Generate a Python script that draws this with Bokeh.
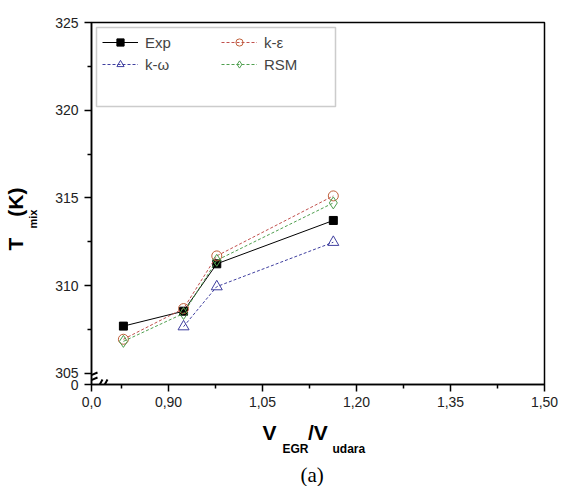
from bokeh.plotting import figure
from bokeh.models import (Range1d, FixedTicker, Legend, LegendItem,
                          BoxAnnotation, Arrow, Title)
from bokeh.embed import file_html
from bokeh.resources import INLINE

# ---------------- data ----------------
x_exp = [0.828, 0.924, 0.977, 1.163]
y_exp = [307.70, 308.55, 311.25, 313.72]
x_ke = [0.828, 0.924, 0.977, 1.163]
y_ke = [306.95, 308.70, 311.70, 315.12]
x_kw = [0.924, 0.977, 1.163]
y_kw = [307.67, 309.95, 312.48]
x_rsm = [0.828, 0.924, 0.977, 1.163]
y_rsm = [306.83, 308.42, 311.45, 314.72]

x_ticks = [0.7771, 0.90, 1.05, 1.20, 1.35, 1.50]
x_tick_labels = ["0,0", "0,90", "1,05", "1,20", "1,35", "1,50"]
x_minor = [0.825, 0.975, 1.125, 1.275, 1.425]
y_ticks = [304.373, 305, 310, 315, 320, 325]
y_tick_labels = ["0", "305", "310", "315", "320", "325"]
y_minor = [307.5, 312.5, 317.5, 322.5]

X0, X1 = 0.7771, 1.5
Y0, Y1 = 304.373, 325.0

W, H = 562, 486
FL, FR, FT, FB = 91, 544, 22, 384   # frame edges in page pixels


def px2x(px):
    return X0 + (px - FL) * (X1 - X0) / (FR - FL)


def px2y(py):
    return Y1 - (py - FT) * (Y1 - Y0) / (FB - FT)


FONT = "Liberation Sans"

p = figure(width=W, height=H, x_range=Range1d(X0, X1), y_range=Range1d(Y0, Y1),
           output_backend="svg", toolbar_location=None,
           min_border_left=FL, min_border_right=W - FR, min_border_top=FT,
           min_border_bottom=H - FB)
p.grid.visible = False
p.outline_line_color = "black"
p.outline_line_width = 1.5
p.background_fill_color = "white"
p.border_fill_color = "white"

p.xaxis.ticker = FixedTicker(ticks=x_ticks, minor_ticks=x_minor)
p.xaxis.major_label_overrides = dict(zip(x_ticks, x_tick_labels))
p.yaxis.ticker = FixedTicker(ticks=y_ticks, minor_ticks=y_minor)
p.yaxis.major_label_overrides = dict(zip(y_ticks, y_tick_labels))
for ax in (p.xaxis, p.yaxis):
    ax.axis_line_width = 1.5
    ax.major_tick_in = 0
    ax.major_tick_out = 7
    ax.minor_tick_in = 0
    ax.minor_tick_out = 4
    ax.major_tick_line_width = 1.5
    ax.minor_tick_line_width = 1.5
    ax.major_label_text_font = FONT
    ax.major_label_text_font_size = "14px"
    ax.major_label_text_color = "#222222"
    ax.axis_label = " "                     # blank spacer label
    ax.axis_label_text_font_size = "1px"
p.xaxis.major_label_standoff = 5
p.yaxis.major_label_standoff = 6
p.xaxis.axis_label_standoff = 14
p.yaxis.axis_label_standoff = 6

# ---------------- series ----------------
C_KE = "#c0504d"
C_KW = "#3f3f9f"
C_RSM = "#4f9f4f"

l_exp = p.line(x_exp, y_exp, line_color="black", line_width=1)
s_exp = p.scatter(x_exp, y_exp, marker="square", size=8, fill_color="black", line_color="black")

l_ke = p.line(x_ke, y_ke, line_color=C_KE, line_width=1, line_dash="3 2")
s_ke = p.scatter(x_ke, y_ke, marker="circle", size=10, fill_color=None, line_color="#c0603a")

l_kw = p.line(x_kw, y_kw, line_color=C_KW, line_width=1, line_dash="3 2")
s_kw = p.scatter(x_kw, y_kw, marker="triangle", size=11, fill_color=None, line_color=C_KW)

l_rsm = p.line(x_rsm, y_rsm, line_color=C_RSM, line_width=1, line_dash="3 2")
s_rsm = p.scatter(x_rsm, y_rsm, marker="diamond", size=12, fill_color=None, line_color=C_RSM)

# ---------------- legend ----------------
box = BoxAnnotation(left=px2x(96), right=px2x(335), top=px2y(27), bottom=px2y(106),
                    fill_alpha=0, line_color="#555555", line_width=1.5)
p.add_layout(box)

legend = Legend(items=[
    LegendItem(label="Exp", renderers=[l_exp, s_exp]),
    LegendItem(label="k-ω", renderers=[l_kw, s_kw]),
    LegendItem(label="k-ε", renderers=[l_ke, s_ke]),
    LegendItem(label="RSM", renderers=[l_rsm, s_rsm]),
], ncols=2, location="top_left", margin=5, padding=6, spacing=4,
    glyph_width=36, glyph_height=18, label_height=18, label_width=72,
    label_standoff=7, border_line_alpha=0, background_fill_alpha=0,
    label_text_font=FONT, label_text_font_size="15px")
p.add_layout(legend)

# ---------------- axis breaks (inside part) ----------------
for (xa, ya, xb, yb) in [(83, 378, 97, 372), (83, 383, 97, 377),
                         (96, 390, 102, 379), (101, 390, 107, 379)]:
    p.add_layout(Arrow(x_start=px2x(xa), y_start=px2y(ya), x_end=px2x(xb), y_end=px2y(yb),
                       end=None, line_width=2, line_color="black"))


# ---------------- axis titles as side-panel titles ----------------
def title(side, text, size, offset, standoff, font=FONT, style="bold"):
    p.add_layout(Title(text=text, align="left", offset=offset, standoff=standoff,
                       text_font=font, text_font_size=size, text_font_style=style,
                       text_color="black"), side)


# y title: rows stack outward from the axis
title("left", "mix", "11px", FB - 228, 7)
title("left", "T\u2002\u2002(K)", "21px", FB - 250, -11)

# x title
title("below", "V\u2003\u2002/V", "21px", 262 - FL, -17)
title("below", "EGR\u2003\u2003udara", "12px", 282 - FL, 9)
# caption
title("below", "(a)", "21px", 300 - FL, 0, font="Liberation Serif", style="normal")

open("out.html", "w").write(file_html(p, INLINE))
